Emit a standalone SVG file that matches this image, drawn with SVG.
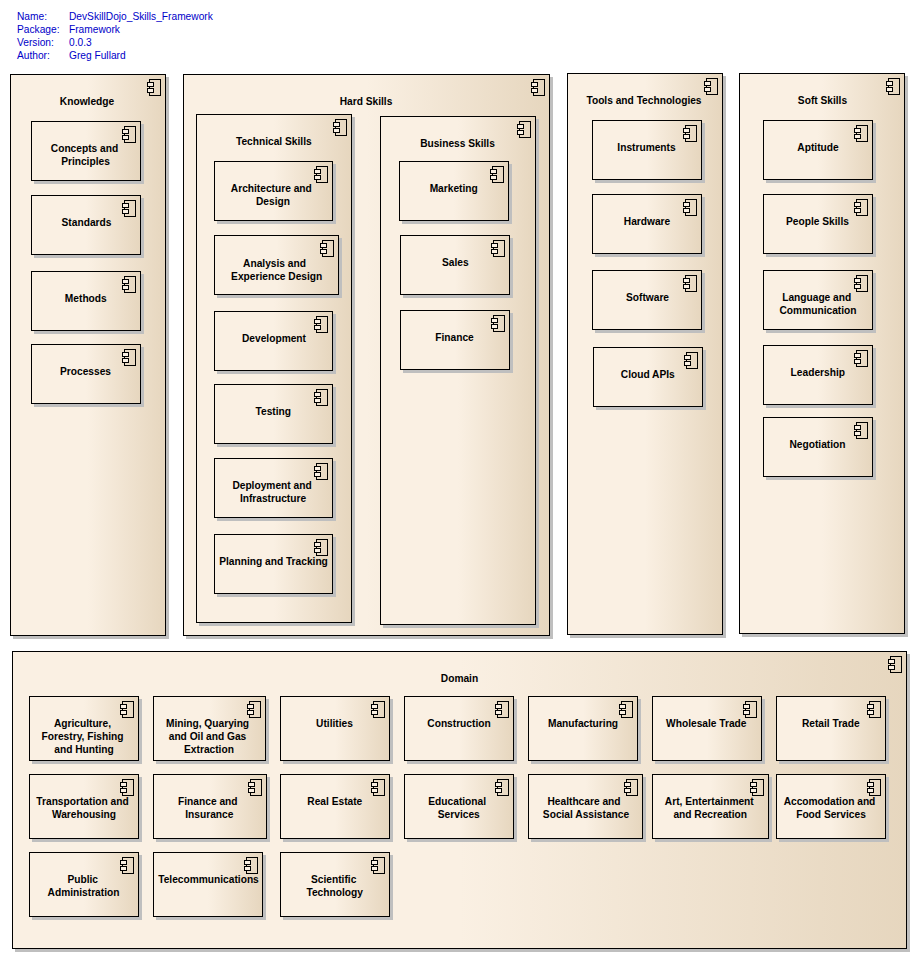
<svg xmlns="http://www.w3.org/2000/svg" width="917" height="959" viewBox="0 0 917 959">
<style>
text{font-family:"Liberation Sans",Arial,sans-serif;font-size:10.2px}
.l{font-weight:700;fill:#000;text-anchor:middle}
.h{fill:#0000c8}
.b{fill:url(#g);stroke:#000;stroke-width:1}
.s{fill:#bfbfbf}
.i{fill:none;stroke:#000;stroke-width:1}
.k{fill:#faf0e3;stroke:#000;stroke-width:1}
</style>
<defs>
<linearGradient id="g" x1="0" y1="0" x2="1" y2="0"><stop offset="0" stop-color="#faf0e3"/><stop offset=".5" stop-color="#faf0e3"/><stop offset="1" stop-color="#e6d6be"/></linearGradient>
<g id="c"><rect class="i" x="-16" y="5" width="11" height="16"/><rect class="k" x="-18" y="8" width="6" height="4"/><rect class="k" x="-18" y="14" width="6" height="4"/></g>
</defs>
<rect width="917" height="959" fill="#fff"/>
<g id="header">
<text class="h" x="17" y="20">Name:</text><text class="h" x="69" y="20">DevSkillDojo_Skills_Framework</text>
<text class="h" x="17" y="33">Package:</text><text class="h" x="69" y="33">Framework</text>
<text class="h" x="17" y="46">Version:</text><text class="h" x="69" y="46">0.0.3</text>
<text class="h" x="17" y="59">Author:</text><text class="h" x="69" y="59">Greg Fullard</text>
</g>
<g id="connectors"/>
<g id="knowledge"><rect class="s" x="13" y="77" width="156" height="562"/><rect class="b" x="10.5" y="74.5" width="155" height="561"/><use href="#c" x="165.5" y="74.5"/><text class="l" x="87" y="105">Knowledge</text></g>
<g id="concepts"><rect class="s" x="34" y="124" width="110" height="60"/><rect class="b" x="31.5" y="121.5" width="109" height="59"/><use href="#c" x="140.5" y="121.5"/><text class="l" x="84.500" y="152">Concepts and</text><text class="l" x="85.500" y="165">Principles</text></g>
<g id="standards"><rect class="s" x="34" y="198" width="110" height="60"/><rect class="b" x="31.5" y="195.5" width="109" height="59"/><use href="#c" x="140.5" y="195.5"/><text class="l" x="86.500" y="226">Standards</text></g>
<g id="methods"><rect class="s" x="34" y="274" width="110" height="60"/><rect class="b" x="31.5" y="271.5" width="109" height="59"/><use href="#c" x="140.5" y="271.5"/><text class="l" x="85.800" y="302">Methods</text></g>
<g id="processes"><rect class="s" x="34" y="347" width="110" height="60"/><rect class="b" x="31.5" y="344.5" width="109" height="59"/><use href="#c" x="140.5" y="344.5"/><text class="l" x="85.500" y="375">Processes</text></g>

<g id="hard-skills"><rect class="s" x="186" y="77" width="367" height="562"/><rect class="b" x="183.5" y="74.5" width="366" height="561"/><use href="#c" x="549.5" y="74.5"/><text class="l" x="366" y="105">Hard Skills</text></g>
<g id="technical-skills"><rect class="s" x="199" y="117" width="156" height="509"/><rect class="b" x="196.5" y="114.5" width="155" height="508"/><use href="#c" x="351.5" y="114.5"/><text class="l" x="273.800" y="145">Technical Skills</text></g>
<g id="architecture"><rect class="s" x="217" y="164" width="119" height="60"/><rect class="b" x="214.5" y="161.5" width="118" height="59"/><use href="#c" x="332.5" y="161.5"/><text class="l" x="271.300" y="192">Architecture and</text><text class="l" x="273" y="205">Design</text></g>
<g id="analysis"><rect class="s" x="217" y="238" width="125" height="60"/><rect class="b" x="214.5" y="235.5" width="124" height="59"/><use href="#c" x="338.5" y="235.5"/><text class="l" x="274.500" y="267">Analysis and</text><text class="l" x="276.700" y="280">Experience Design</text></g>
<g id="development"><rect class="s" x="217" y="314" width="119" height="60"/><rect class="b" x="214.5" y="311.5" width="118" height="59"/><use href="#c" x="332.5" y="311.5"/><text class="l" x="274" y="342">Development</text></g>
<g id="testing"><rect class="s" x="217" y="387" width="119" height="60"/><rect class="b" x="214.5" y="384.5" width="118" height="59"/><use href="#c" x="332.5" y="384.5"/><text class="l" x="273.300" y="415">Testing</text></g>
<g id="deployment"><rect class="s" x="217" y="461" width="119" height="60"/><rect class="b" x="214.5" y="458.5" width="118" height="59"/><use href="#c" x="332.5" y="458.5"/><text class="l" x="272" y="489">Deployment and</text><text class="l" x="273" y="502">Infrastructure</text></g>
<g id="planning"><rect class="s" x="217" y="537" width="119" height="60"/><rect class="b" x="214.5" y="534.5" width="118" height="59"/><use href="#c" x="332.5" y="534.5"/><text class="l" x="273.500" y="565">Planning and Tracking</text></g>
<g id="business-skills"><rect class="s" x="383" y="119" width="156" height="509"/><rect class="b" x="380.5" y="116.500" width="155" height="508"/><use href="#c" x="535.5" y="116.5"/><text class="l" x="457.500" y="147">Business Skills</text></g>
<g id="marketing"><rect class="s" x="402" y="164" width="110" height="60"/><rect class="b" x="399.5" y="161.5" width="109" height="59"/><use href="#c" x="508.5" y="161.5"/><text class="l" x="453.700" y="192">Marketing</text></g>
<g id="sales"><rect class="s" x="403" y="238" width="110" height="60"/><rect class="b" x="400.5" y="235.5" width="109" height="59"/><use href="#c" x="509.5" y="235.5"/><text class="l" x="455.300" y="266">Sales</text></g>
<g id="finance"><rect class="s" x="403" y="313" width="110" height="60"/><rect class="b" x="400.5" y="310.5" width="109" height="59"/><use href="#c" x="509.5" y="310.5"/><text class="l" x="454.500" y="341">Finance</text></g>

<g id="tools"><rect class="s" x="570" y="76" width="156" height="562"/><rect class="b" x="567.5" y="73.5" width="155" height="561"/><use href="#c" x="722.5" y="73.5"/><text class="l" x="644" y="104">Tools and Technologies</text></g>
<g id="instruments"><rect class="s" x="595" y="123" width="110" height="60"/><rect class="b" x="592.5" y="120.5" width="109" height="59"/><use href="#c" x="701.5" y="120.5"/><text class="l" x="646.500" y="151">Instruments</text></g>
<g id="hardware"><rect class="s" x="595" y="197" width="110" height="60"/><rect class="b" x="592.5" y="194.5" width="109" height="59"/><use href="#c" x="701.5" y="194.5"/><text class="l" x="647" y="225">Hardware</text></g>
<g id="software"><rect class="s" x="595" y="273" width="110" height="60"/><rect class="b" x="592.5" y="270.5" width="109" height="59"/><use href="#c" x="701.5" y="270.5"/><text class="l" x="647.500" y="301">Software</text></g>
<g id="cloud-apis"><rect class="s" x="596" y="350" width="110" height="60"/><rect class="b" x="593.5" y="347.5" width="109" height="59"/><use href="#c" x="702.5" y="347.5"/><text class="l" x="647.800" y="378">Cloud APIs</text></g>

<g id="soft-skills"><rect class="s" x="742" y="76" width="166" height="561"/><rect class="b" x="739.5" y="73.5" width="165" height="560"/><use href="#c" x="904.5" y="73.5"/><text class="l" x="822.500" y="104">Soft Skills</text></g>
<g id="aptitude"><rect class="s" x="766" y="123" width="110" height="60"/><rect class="b" x="763.5" y="120.5" width="109" height="59"/><use href="#c" x="872.5" y="120.5"/><text class="l" x="818" y="151">Aptitude</text></g>
<g id="people"><rect class="s" x="766" y="197" width="110" height="60"/><rect class="b" x="763.5" y="194.5" width="109" height="59"/><use href="#c" x="872.5" y="194.5"/><text class="l" x="817.500" y="225">People Skills</text></g>
<g id="language"><rect class="s" x="766" y="273" width="110" height="60"/><rect class="b" x="763.5" y="270.5" width="109" height="59"/><use href="#c" x="872.5" y="270.5"/><text class="l" x="816.700" y="301">Language and</text><text class="l" x="818" y="314">Communication</text></g>
<g id="leadership"><rect class="s" x="766" y="348" width="110" height="60"/><rect class="b" x="763.5" y="345.5" width="109" height="59"/><use href="#c" x="872.5" y="345.5"/><text class="l" x="817.800" y="376">Leadership</text></g>
<g id="negotiation"><rect class="s" x="766" y="420" width="110" height="60"/><rect class="b" x="763.5" y="417.5" width="109" height="59"/><use href="#c" x="872.5" y="417.5"/><text class="l" x="817.500" y="448">Negotiation</text></g>

<g id="domain"><rect class="s" x="15" y="654" width="895" height="298"/><rect class="b" x="12.5" y="651.5" width="894" height="297"/><use href="#c" x="906.5" y="651.5"/><text class="l" x="459.500" y="682">Domain</text></g>
<g id="agriculture"><rect class="s" x="32" y="699" width="110" height="65"/><rect class="b" x="29.5" y="696.5" width="109" height="64"/><use href="#c" x="138.5" y="696.5"/><text class="l" x="82.500" y="727">Agriculture,</text><text class="l" x="82.500" y="740">Forestry, Fishing</text><text class="l" x="84" y="753">and Hunting</text></g>
<g id="mining"><rect class="s" x="156" y="699" width="113" height="65"/><rect class="b" x="153.5" y="696.5" width="112" height="64"/><use href="#c" x="265.5" y="696.5"/><text class="l" x="207.500" y="727">Mining, Quarying</text><text class="l" x="207.500" y="740">and Oil and Gas</text><text class="l" x="209" y="753">Extraction</text></g>
<g id="utilities"><rect class="s" x="283" y="699" width="110" height="65"/><rect class="b" x="280.5" y="696.5" width="109" height="64"/><use href="#c" x="389.5" y="696.5"/><text class="l" x="334.500" y="727">Utilities</text></g>
<g id="construction"><rect class="s" x="407" y="699" width="110" height="65"/><rect class="b" x="404.5" y="696.5" width="109" height="64"/><use href="#c" x="513.5" y="696.5"/><text class="l" x="459" y="727">Construction</text></g>
<g id="manufacturing"><rect class="s" x="531" y="699" width="110" height="65"/><rect class="b" x="528.5" y="696.5" width="109" height="64"/><use href="#c" x="637.5" y="696.5"/><text class="l" x="583" y="727">Manufacturing</text></g>
<g id="wholesale"><rect class="s" x="655" y="699" width="110" height="65"/><rect class="b" x="652.5" y="696.5" width="109" height="64"/><use href="#c" x="761.5" y="696.5"/><text class="l" x="706.300" y="727">Wholesale Trade</text></g>
<g id="retail"><rect class="s" x="779" y="699" width="110" height="65"/><rect class="b" x="776.5" y="696.5" width="109" height="64"/><use href="#c" x="885.5" y="696.5"/><text class="l" x="830.800" y="727">Retail Trade</text></g>
<g id="transportation"><rect class="s" x="32" y="777" width="110" height="65"/><rect class="b" x="29.5" y="774.5" width="109" height="64"/><use href="#c" x="138.5" y="774.5"/><text class="l" x="82.500" y="805">Transportation and</text><text class="l" x="84" y="818">Warehousing</text></g>
<g id="finance-insurance"><rect class="s" x="156" y="777" width="114" height="65"/><rect class="b" x="153.5" y="774.5" width="113" height="64"/><use href="#c" x="266.5" y="774.5"/><text class="l" x="207.800" y="805">Finance and</text><text class="l" x="209.300" y="818">Insurance</text></g>
<g id="real-estate"><rect class="s" x="283" y="777" width="110" height="65"/><rect class="b" x="280.5" y="774.5" width="109" height="64"/><use href="#c" x="389.5" y="774.5"/><text class="l" x="334.800" y="805">Real Estate</text></g>
<g id="educational"><rect class="s" x="407" y="777" width="110" height="65"/><rect class="b" x="404.5" y="774.5" width="109" height="64"/><use href="#c" x="513.5" y="774.5"/><text class="l" x="457.200" y="805">Educational</text><text class="l" x="458.800" y="818">Services</text></g>
<g id="healthcare"><rect class="s" x="531" y="777" width="115" height="65"/><rect class="b" x="528.5" y="774.5" width="114" height="64"/><use href="#c" x="642.5" y="774.5"/><text class="l" x="584" y="805">Healthcare and</text><text class="l" x="586" y="818">Social Assistance</text></g>
<g id="art"><rect class="s" x="655" y="777" width="117" height="65"/><rect class="b" x="652.5" y="774.5" width="116" height="64"/><use href="#c" x="768.5" y="774.5"/><text class="l" x="709.300" y="805">Art, Entertainment</text><text class="l" x="710.200" y="818">and Recreation</text></g>
<g id="accomodation"><rect class="s" x="779" y="777" width="110" height="65"/><rect class="b" x="776.5" y="774.5" width="109" height="64"/><use href="#c" x="885.5" y="774.5"/><text class="l" x="829.500" y="805">Accomodation and</text><text class="l" x="831" y="818">Food Services</text></g>
<g id="public-admin"><rect class="s" x="32" y="855" width="110" height="65"/><rect class="b" x="29.5" y="852.5" width="109" height="64"/><use href="#c" x="138.5" y="852.5"/><text class="l" x="82.700" y="883">Public</text><text class="l" x="83.500" y="896">Administration</text></g>
<g id="telecom"><rect class="s" x="156" y="855" width="110" height="65"/><rect class="b" x="153.5" y="852.5" width="109" height="64"/><use href="#c" x="262.5" y="852.5"/><text class="l" x="208.500" y="883">Telecommunications</text></g>
<g id="scientific"><rect class="s" x="283" y="855" width="110" height="65"/><rect class="b" x="280.5" y="852.5" width="109" height="64"/><use href="#c" x="389.5" y="852.5"/><text class="l" x="333.700" y="883">Scientific</text><text class="l" x="334.700" y="896">Technology</text></g>
</svg>
